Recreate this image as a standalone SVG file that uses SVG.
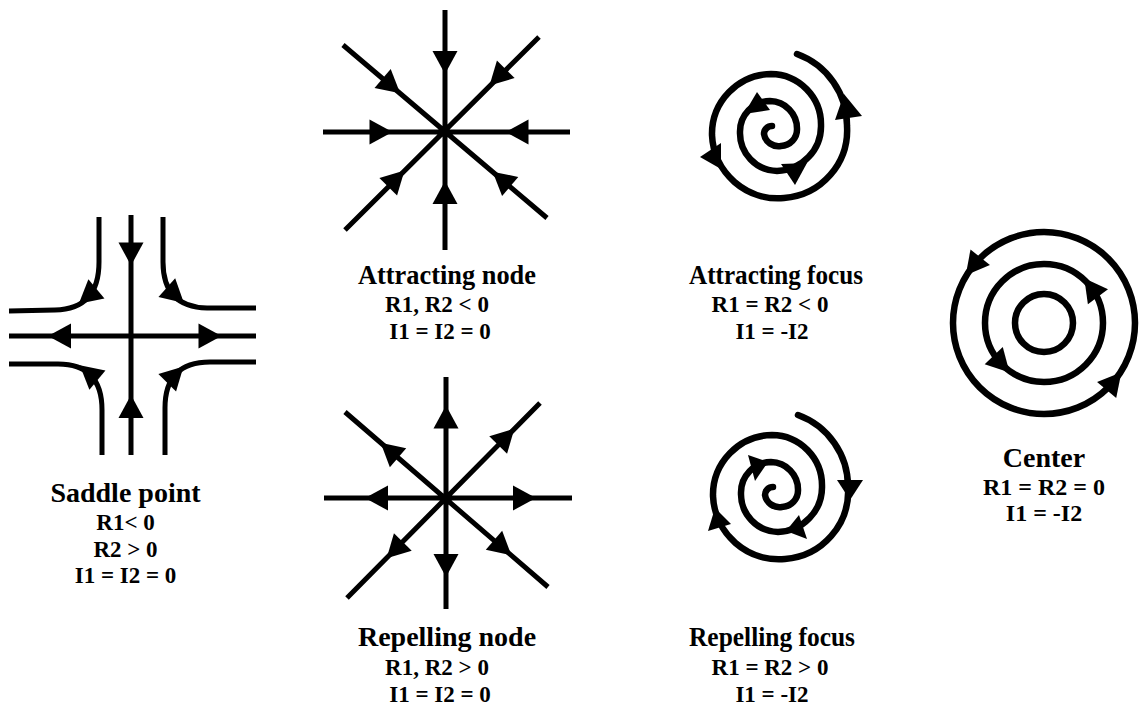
<svg xmlns="http://www.w3.org/2000/svg" xmlns:xlink="http://www.w3.org/1999/xlink" width="1139" height="712" viewBox="0 0 1139 712">
<style>
.ln{stroke:#000;stroke-width:5;fill:none}
.sp{stroke:#000;stroke-width:6.5;fill:none;stroke-linecap:round}
.ah{fill:#000}
.t{font-family:"Liberation Serif","Times New Roman",serif;font-weight:bold;fill:#000;text-anchor:middle}
.h{font-size:28px}
.s{font-size:23px}
</style>
<defs>
<polygon id="ah" points="12,0 -11,-12.5 -11,12.5"/>
</defs>
<rect width="1139" height="712" fill="#fff"/>

<g id="saddle">
<path class="ln" d="M131 215V455M9 336H256"/>
<path class="ln" d="M99 217L99 262Q99 309 55 310L9 311M163 217L163 262Q163 307 207 308L256 308M9 364L58 364Q102 364 102 410L102 455M256 362L210 362Q165 362 165 408L165 455"/>
<use href="#ah" class="ah" transform="translate(131,253.5) rotate(90)"/>
<use href="#ah" class="ah" transform="translate(131,407) rotate(-90)"/>
<use href="#ah" class="ah" transform="translate(60,336) rotate(180)"/>
<use href="#ah" class="ah" transform="translate(209.5,336)"/>
<use href="#ah" class="ah" transform="translate(88,296) rotate(140)"/>
<use href="#ah" class="ah" transform="translate(175,295) rotate(42)"/>
<use href="#ah" class="ah" transform="translate(89,373) rotate(220)"/>
<use href="#ah" class="ah" transform="translate(175,375) rotate(-45)"/>
<text class="t h" x="125.5" y="502">Saddle point</text>
<text class="t s" x="125.5" y="530">R1&lt; 0</text>
<text class="t s" x="125.5" y="557">R2 &gt; 0</text>
<text class="t s" x="125.5" y="583">I1 = I2 = 0</text>
</g>

<g id="attracting-node">
<path class="ln" d="M445 10V250M323 132H570M343 45L547 218M539 37L345 230"/>
<use href="#ah" class="ah" transform="translate(445,62) rotate(90)"/>
<use href="#ah" class="ah" transform="translate(445,193) rotate(-90)"/>
<use href="#ah" class="ah" transform="translate(380.5,132)"/>
<use href="#ah" class="ah" transform="translate(517.5,132) rotate(180)"/>
<use href="#ah" class="ah" transform="translate(391,85.6) rotate(40.3)"/>
<use href="#ah" class="ah" transform="translate(501.8,179.4) rotate(220.3)"/>
<use href="#ah" class="ah" transform="translate(498,77) rotate(135)"/>
<use href="#ah" class="ah" transform="translate(396,179) rotate(-45)"/>
<text class="t h" x="447" y="284" textLength="178" lengthAdjust="spacingAndGlyphs">Attracting node</text>
<text class="t s" x="437" y="312">R1, R2 &lt; 0</text>
<text class="t s" x="440" y="339">I1 = I2 = 0</text>
</g>

<g id="repelling-node">
<path class="ln" d="M446 377V609M324 498H572M345 412L548 587M540 403L347 598"/>
<use href="#ah" class="ah" transform="translate(446,417.5) rotate(-90)"/>
<use href="#ah" class="ah" transform="translate(446,565) rotate(90)"/>
<use href="#ah" class="ah" transform="translate(377,498) rotate(180)"/>
<use href="#ah" class="ah" transform="translate(524,498)"/>
<use href="#ah" class="ah" transform="translate(389.7,450.5) rotate(220.8)"/>
<use href="#ah" class="ah" transform="translate(502.3,547.5) rotate(40.8)"/>
<use href="#ah" class="ah" transform="translate(505.9,437.2) rotate(-45.3)"/>
<use href="#ah" class="ah" transform="translate(395.1,549.8) rotate(134.7)"/>
<text class="t h" x="447" y="646">Repelling node</text>
<text class="t s" x="437" y="675">R1, R2 &gt; 0</text>
<text class="t s" x="440" y="702">I1 = I2 = 0</text>
</g>

<g id="attracting-focus">
<path class="sp" d="M797 54A76 76 0 0 1 847 126A68 68 0 0 1 784 198A66 66 0 0 1 712 135A60 60 0 0 1 771 74A50.5 50.5 0 0 1 821 125A45 45 0 0 1 777 171A38 38 0 0 1 740 132A30.5 30.5 0 0 1 770 101A27.5 27.5 0 0 1 797 129A16.5 16.5 0 0 1 781 146A14.7 14.7 0 0 1 764 134A8 8 0 0 1 772 126"/>
<polygon class="ah" points="844,94 835,120 862,116"/>
<polygon class="ah" points="700,157 721,143 721,169"/>
<polygon class="ah" points="757,92 744,114 770,110"/>
<polygon class="ah" points="781,164 807,163 795,185"/>
<text class="t h" x="776" y="284" textLength="174" lengthAdjust="spacingAndGlyphs">Attracting focus</text>
<text class="t s" x="770" y="312">R1 = R2 &lt; 0</text>
<text class="t s" x="772" y="339">I1 = -I2</text>
</g>

<g id="repelling-focus">
<path class="sp" transform="translate(1,361)" d="M797 54A76 76 0 0 1 847 126A68 68 0 0 1 784 198A66 66 0 0 1 712 135A60 60 0 0 1 771 74A50.5 50.5 0 0 1 821 125A45 45 0 0 1 777 171A38 38 0 0 1 740 132A30.5 30.5 0 0 1 770 101A27.5 27.5 0 0 1 797 129A16.5 16.5 0 0 1 781 146A14.7 14.7 0 0 1 764 134A8 8 0 0 1 772 126"/>
<polygon class="ah" points="850,500 837,480 863,480"/>
<polygon class="ah" points="715,508 708,531 731,524"/>
<polygon class="ah" points="768,462 748,455 755,481"/>
<polygon class="ah" points="807,539 786,531 799,515"/>
<text class="t h" x="772" y="646" textLength="166" lengthAdjust="spacingAndGlyphs">Repelling focus</text>
<text class="t s" x="770" y="675">R1 = R2 &gt; 0</text>
<text class="t s" x="772" y="702">I1 = -I2</text>
</g>

<g id="center">
<circle class="sp" cx="1044" cy="323" r="29"/>
<circle class="sp" cx="1044" cy="323" r="59"/>
<circle class="sp" cx="1044" cy="323" r="91"/>
<use href="#ah" class="ah" transform="translate(973.3,265.8) rotate(129)"/>
<use href="#ah" class="ah" transform="translate(1113.7,381.5) rotate(-50)"/>
<use href="#ah" class="ah" transform="translate(1091.4,287.9) rotate(-126.5)"/>
<use href="#ah" class="ah" transform="translate(1001.3,363.7) rotate(46.4)"/>
<text class="t h" x="1044" y="467">Center</text>
<text class="t" x="1044" y="495" font-size="24">R1 = R2 = 0</text>
<text class="t" x="1044" y="521" font-size="24">I1 = -I2</text>
</g>
</svg>
